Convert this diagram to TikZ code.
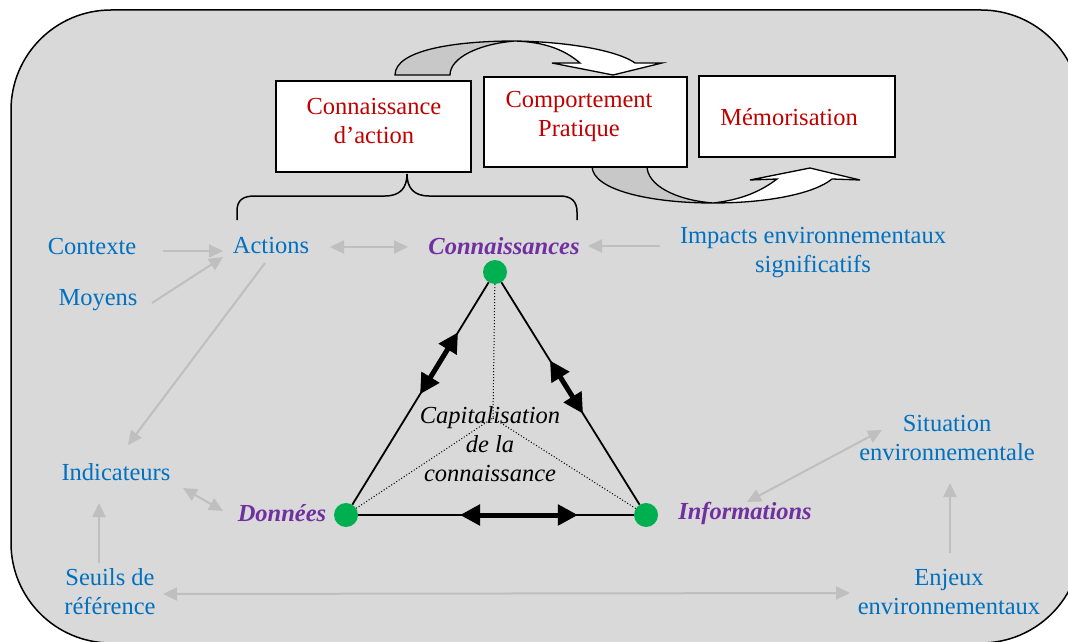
\documentclass[tikz,border=0pt]{standalone}
\usepackage{fontspec}
\setmainfont{Liberation Serif}
\usetikzlibrary{arrows.meta,calc}
\definecolor{bg}{HTML}{D9D9D9}
\definecolor{txtblue}{HTML}{0070C0}
\definecolor{txtred}{HTML}{C00000}
\definecolor{txtpurple}{HTML}{7030A0}
\definecolor{dotgreen}{HTML}{00B050}
\definecolor{arrgray}{HTML}{BFBFBF}
\definecolor{crescent}{HTML}{C8C8C8}
\tikzset{
  txt/.style={inner sep=0pt, font=\fontsize{24.5}{29}\selectfont, align=center},
  bluetxt/.style={txt, text=txtblue},
  redtxt/.style={txt, text=txtred},
  keytxt/.style={txt, text=txtpurple, font=\fontsize{24.5}{29}\selectfont\bfseries\itshape},
  stepbox/.style={draw=black, line width=1.5pt, fill=white, inner sep=0pt},
  gdot/.style={circle, fill=dotgreen, minimum size=24pt, inner sep=0pt},
  garrow/.style={draw=arrgray, line width=2pt, -{Triangle[length=14pt,width=13pt]}},
  gdouble/.style={draw=arrgray, line width=2pt, {Triangle[length=14pt,width=13pt]}-{Triangle[length=14pt,width=13pt]}},
  bigdouble/.style={draw=black, line width=5pt, {Triangle[length=20pt,width=20pt]}-{Triangle[length=20pt,width=20pt]}},
}
\begin{document}
\begin{tikzpicture}[x=1pt,y=-1pt]
\useasboundingbox (0,0) rectangle (1068,642);
% background panel
\draw[line width=1.5pt, fill=bg, rounded corners=100pt] (11,10) rectangle (1081,643);

% curved arrows (behind boxes)
\draw[line width=1.3pt, fill=crescent] (395,75) .. controls (395,50) and (455,41) .. (515,41)
   .. controls (478,44) and (450,58) .. (450,75) -- cycle;
\draw[line width=1.3pt, fill=white] (515,41) .. controls (575,42) and (620,52) .. (635,63)
   -- (662,63) -- (613,75) -- (552,63) -- (580,63)
   .. controls (565,50) and (545,42) .. (515,41) -- cycle;
\draw[line width=1.3pt, fill=crescent] (592,166) .. controls (592,190) and (650,203) .. (713,203)
   .. controls (675,200) and (647,185) .. (647,166) -- cycle;
\draw[line width=1.3pt, fill=white] (713,203) .. controls (770,203) and (815,193) .. (832,179)
   -- (860,180) -- (810,168) -- (750,180) -- (777,179)
   .. controls (760,192) and (740,200) .. (713,203) -- cycle;

% boxes
\node[stepbox, minimum width=195pt, minimum height=91pt] (box1) at (373.5,126.5) {};
\node[stepbox, minimum width=203pt, minimum height=90pt] (box2) at (585.5,122) {};
\node[stepbox, minimum width=196pt, minimum height=81pt] (box3) at (797,116.5) {};
\node[redtxt] (t1) at (374,121) {Connaissance\\d’action};
\node[redtxt] (t2) at (579,116) {Comportement\\Pratique};
\node[redtxt] (t3) at (789,117) {Mémorisation};

% brace
\draw[line width=1.5pt] (237,220) -- (237,211) .. controls (237,200) and (243,196) .. (255,196)
  -- (385,196) .. controls (400,196) and (407,188) .. (407,174)
  .. controls (407,188) and (414,196) .. (429,196) -- (560,196)
  .. controls (572,196) and (577,202) .. (577,212) -- (577,220);

% text labels
\node[bluetxt] (contexte) at (92,247) {Contexte};
\node[bluetxt] (actions) at (271,246) {Actions};
\node[bluetxt] (moyens) at (98,300) {Moyens};
\node[keytxt] (conn) at (504,246) {Connaissances};
\node[bluetxt] (impacts) at (813,253) {Impacts environnementaux\\significatifs};
\node[bluetxt] (indic) at (116,472) {Indicateurs};
\node[bluetxt] (seuils) at (110,592) {Seuils de\\référence};
\node[bluetxt] (situation) at (947,438) {Situation\\environnementale};
\node[bluetxt] (enjeux) at (949,592) {Enjeux\\environnementaux};
\node[keytxt] (donnees) at (282,513) {Données};
\node[keytxt] (infos) at (745,513) {Informations};

% triangle
\node[gdot] (ktop) at (495,272) {};
\node[gdot] (kleft) at (346,515) {};
\node[gdot] (kright) at (646,515) {};
\coordinate (cap) at (493,418);
\draw[line width=1.8pt] (ktop) -- (kleft);
\draw[line width=1.8pt] (ktop) -- (kright);
\draw[line width=1.8pt] (kleft) -- (kright);
\draw[line width=1pt, dotted] (ktop) -- (cap);
\draw[line width=1pt, dotted] (kleft) -- (cap);
\draw[line width=1pt, dotted] (kright) -- (cap);
\node[txt, font=\fontsize{24.5}{29}\selectfont\itshape] (capt) at (490,444) {Capitalisation\\de la\\connaissance};

\draw[bigdouble] ($(kleft)!0.497!(ktop)$) -- ($(kleft)!0.752!(ktop)$);
\draw[bigdouble] ($(ktop)!0.364!(kright)$) -- ($(ktop)!0.583!(kright)$);
\draw[bigdouble] ($(kleft)!0.38!(kright)$) -- ($(kleft)!0.773!(kright)$);

% gray connectors
\draw[garrow] ([shift={(71,4)}]contexte.center) -- ([shift={(-48,5)}]actions.center);
\draw[garrow] ([shift={(54,3)}]moyens.center) -- ([shift={(-48,11)}]actions.center);
\draw[garrow] ([shift={(-6,17)}]actions.center) -- ([shift={(12,-27)}]indic.center);
\draw[gdouble] ([shift={(59,1)}]actions.center) -- ([shift={(-96,1)}]conn.center);
\draw[garrow] ([shift={(-153,-7)}]impacts.center) -- ([shift={(84,0)}]conn.center);
\draw[gdouble] ([shift={(67,16)}]indic.center) -- ([shift={(-59,-2)}]donnees.center);
\draw[garrow] ([shift={(-11,-29)}]seuils.center) -- ([shift={(-17,31)}]indic.center);
\draw[gdouble] ([shift={(53,2)}]seuils.center) -- ([shift={(-99,1)}]enjeux.center);
\draw[garrow] ([shift={(1,-39)}]enjeux.center) -- ([shift={(3,45)}]situation.center);
\draw[gdouble] ([shift={(-65,-8)}]situation.center) -- ([shift={(2,-11)}]infos.center);
\end{tikzpicture}
\end{document}
